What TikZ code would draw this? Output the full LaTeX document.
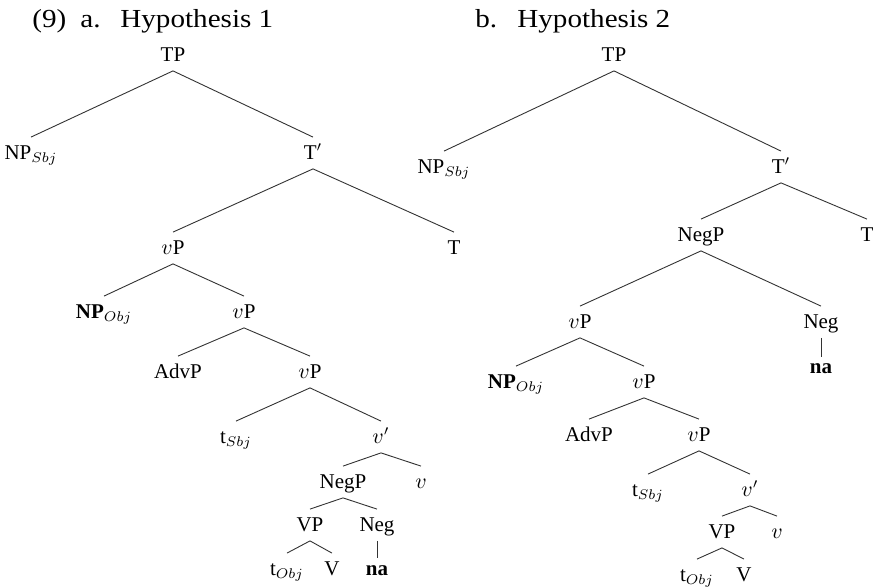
\documentclass[tikz,border=0pt]{standalone}
\usepackage{fontspec}
\usepackage{graphicx}
\setmainfont{Liberation Serif}
\begin{document}
\begin{tikzpicture}[x=0.5pt,y=-0.5pt,
  lab/.style={anchor=base,inner xsep=0pt,inner ysep=2.5pt,text height=8.5pt,text depth=2pt,font=\fontsize{10.5}{12}\selectfont},
  low/.style={lab,text height=6pt},
  head/.style={anchor=base west,inner sep=0pt,font=\fontsize{13}{15}\selectfont},
  br/.style={line width=0.45pt,black!80}]
\useasboundingbox (0,0) rectangle (875,587);
% headings
\node[head] (h9) at (32,28) {\scalebox{1.12}[1]{(9)}};
\node[head] (ha) at (80,28) {\scalebox{1.12}[1]{a.}};
\node[head] (hA) at (120,28) {\scalebox{1.12}[1]{Hypothesis 1}};
\node[head] (hb) at (475,28) {\scalebox{1.12}[1]{b.}};
\node[head] (hB) at (517,28) {\scalebox{1.12}[1]{Hypothesis 2}};
% tree a
\node[lab] (aTP) at (173,61.5) {TP};
\node[lab] (aNPs) at (31,159.5) {NP$_{Sbj}$};
\node[lab] (aTb) at (313,159.5) {T$'$};
\node[lab] (avP) at (173,254.5) {$v$P};
\node[lab] (aT) at (454,254.5) {T};
\node[lab] (aNPo) at (104,318.5) {\textbf{NP}$_{Obj}$};
\node[lab] (avP2) at (244,318.5) {$v$P};
\node[lab] (aAdv) at (178,378.5) {AdvP};
\node[lab] (avP3) at (310,378.5) {$v$P};
\node[lab] (atS) at (236,443.5) {t$_{Sbj}$};
\node[lab] (avb) at (381,443.5) {$v'$};
\node[lab] (aNegP) at (343,488.5) {NegP};
\node[lab] (av) at (421,488.5) {$v$};
\node[lab] (aVP) at (310,531.5) {VP};
\node[lab] (aNeg) at (377,531.5) {Neg};
\node[lab] (atO) at (287,575.5) {t$_{Obj}$};
\node[lab] (aV) at (332,575.5) {V};
\node[low] (ana) at (377,575.5) {\textbf{na}};
\draw[br] (aNPs.north) -- (aTP.south) -- (aTb.north);
\draw[br] (avP.north) -- (aTb.south) -- (aT.north);
\draw[br] (aNPo.north) -- (avP.south) -- (avP2.north);
\draw[br] (aAdv.north) -- (avP2.south) -- (avP3.north);
\draw[br] (atS.north) -- (avP3.south) -- (avb.north);
\draw[br] (aNegP.north) -- (avb.south) -- (av.north);
\draw[br] (aVP.north) -- (aNegP.south) -- (aNeg.north);
\draw[br] (atO.north) -- (aVP.south) -- (aV.north);
\draw[br] (aNeg.south) -- (ana.north);
% tree b
\node[lab] (bTP) at (614,61.5) {TP};
\node[lab] (bNPs) at (444,173.5) {NP$_{Sbj}$};
\node[lab] (bTb) at (781,173.5) {T$'$};
\node[lab] (bNegP) at (701,241.5) {NegP};
\node[lab] (bT) at (867,241.5) {T};
\node[lab] (bvP) at (580,328.5) {$v$P};
\node[lab] (bNeg) at (821,328.5) {Neg};
\node[low] (bna) at (821,374) {\textbf{na}};
\node[lab] (bNPo) at (516,388.5) {\textbf{NP}$_{Obj}$};
\node[lab] (bvP2) at (644,388.5) {$v$P};
\node[lab] (bAdv) at (589,441.5) {AdvP};
\node[lab] (bvP3) at (699,441.5) {$v$P};
\node[lab] (btS) at (648,496.5) {t$_{Sbj}$};
\node[lab] (bvb) at (750,496.5) {$v'$};
\node[lab] (bVP) at (722,538.5) {VP};
\node[lab] (bv) at (777,538.5) {$v$};
\node[lab] (btO) at (697,581.5) {t$_{Obj}$};
\node[lab] (bV) at (744,581.5) {V};
\draw[br] (bNPs.north) -- (bTP.south) -- (bTb.north);
\draw[br] (bNegP.north) -- (bTb.south) -- (bT.north);
\draw[br] (bvP.north) -- (bNegP.south) -- (bNeg.north);
\draw[br] (bNeg.south) -- (bna.north);
\draw[br] (bNPo.north) -- (bvP.south) -- (bvP2.north);
\draw[br] (bAdv.north) -- (bvP2.south) -- (bvP3.north);
\draw[br] (btS.north) -- (bvP3.south) -- (bvb.north);
\draw[br] (bVP.north) -- (bvb.south) -- (bv.north);
\draw[br] (btO.north) -- (bVP.south) -- (bV.north);
\end{tikzpicture}
\end{document}
